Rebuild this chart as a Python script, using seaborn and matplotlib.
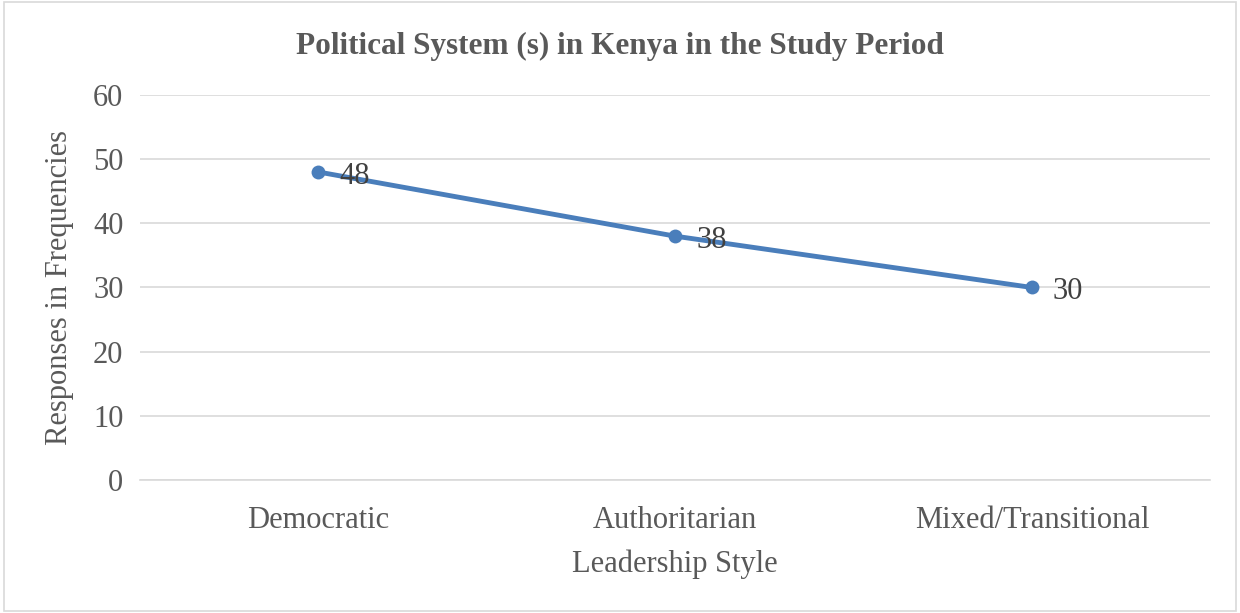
import matplotlib.pyplot as plt
import seaborn as sns
import pandas as pd
from matplotlib.patches import Rectangle

styles = ['Democratic', 'Authoritarian', 'Mixed/Transitional']
responses = [48, 38, 30]
yticks = [0, 10, 20, 30, 40, 50, 60]

df = pd.DataFrame({'style': styles, 'responses': responses})

sns.set_style('white')
plt.rcParams['font.family'] = ['Liberation Serif', 'DejaVu Serif']

fig = plt.figure(figsize=(12.4, 6.13), dpi=100)
ax = fig.add_axes([0.113, 0.217, 0.863, 0.628])

line_color = '#4a7ebb'
sns.lineplot(data=df, x='style', y='responses', ax=ax, color=line_color,
             lw=3.5, marker='o', markersize=10, markeredgewidth=0, sort=False)

for i, v in enumerate(responses):
    ax.annotate(str(v), (i, v), xytext=(15, -3), textcoords='offset points',
                va='center', ha='left', fontsize=22, color='#404040')

ax.set_xlim(-0.5, 2.5)
ax.set_ylim(0, 60)
ax.set_yticks(yticks)
ax.yaxis.grid(True, color='#d9d9d9', lw=1.2)
ax.set_axisbelow(True)
for s in ['top', 'right', 'left']:
    ax.spines[s].set_visible(False)
ax.spines['bottom'].set_color('#d9d9d9')
ax.spines['bottom'].set_linewidth(1.2)
ax.tick_params(axis='both', length=0, labelsize=22, labelcolor='#595959')
ax.tick_params(axis='y', pad=12)
ax.tick_params(axis='x', pad=19)

ax.set_xlabel('Leadership Style', fontsize=22, color='#595959', labelpad=10)
ax.set_ylabel('Responses in Frequencies', fontsize=22, color='#595959', labelpad=14)

fig.text(0.5, 0.925, 'Political System (s) in Kenya in the Study Period',
         ha='center', va='center', fontsize=22.5, fontweight='bold', color='#595959')

fig.patches.append(Rectangle((0.003, 0.004), 0.994, 0.992, transform=fig.transFigure,
                             fill=False, edgecolor='#d9d9d9', lw=1.2))

fig.savefig('out.png', dpi=100)
